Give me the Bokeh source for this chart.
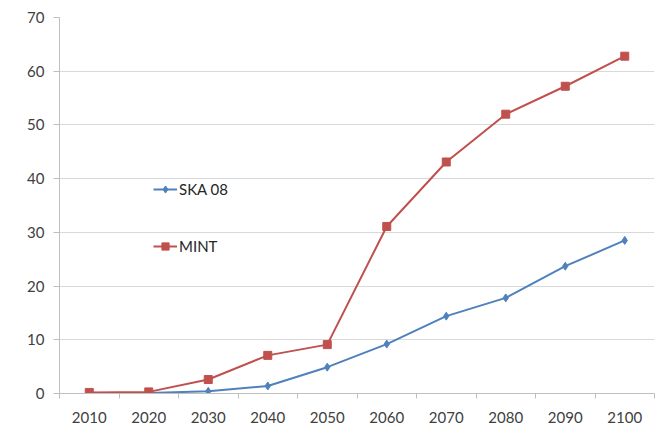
from bokeh.plotting import figure
from bokeh.models import FixedTicker, Legend, LegendItem, Range1d
from bokeh.embed import file_html
from bokeh.resources import INLINE

years = [2010, 2020, 2030, 2040, 2050, 2060, 2070, 2080, 2090, 2100]
ska08 = [0.0, 0.1, 0.4, 1.4, 4.9, 9.2, 14.4, 17.8, 23.7, 28.5]
mint = [0.2, 0.3, 2.6, 7.1, 9.1, 31.1, 43.1, 52.0, 57.2, 62.8]
y_ticks = [0, 10, 20, 30, 40, 50, 60, 70]

FONT = "Lato"
TXT = "#404040"
BLUE = "#4f81bd"
RED = "#c0504d"

p = figure(width=659, height=427, output_backend="svg", toolbar_location=None,
           x_range=Range1d(2005, 2105), y_range=Range1d(0, 70),
           min_border_left=59, min_border_right=5, min_border_top=17, min_border_bottom=34)
p.outline_line_color = None
p.background_fill_color = "white"
p.border_fill_color = "white"

# axes
p.xaxis.ticker = FixedTicker(ticks=years, minor_ticks=[y - 5 for y in years] + [years[-1] + 5])
p.xaxis.major_tick_line_color = None
p.xaxis.minor_tick_line_color = "#bfbfbf"
p.xaxis.minor_tick_out = 5
p.xaxis.minor_tick_in = 0
p.xaxis.axis_line_color = "#bfbfbf"
p.xaxis.major_label_text_font = FONT
p.xaxis.major_label_text_font_size = "15px"
p.xaxis.major_label_text_color = TXT
p.xaxis.major_label_standoff = 12

p.yaxis.ticker = FixedTicker(ticks=y_ticks)
p.yaxis.minor_tick_line_color = None
p.yaxis.major_tick_line_color = "#bfbfbf"
p.yaxis.major_tick_out = 6
p.yaxis.major_tick_in = 0
p.yaxis.axis_line_color = "#bfbfbf"
p.yaxis.major_label_text_font = FONT
p.yaxis.major_label_text_font_size = "15px"
p.yaxis.major_label_text_color = TXT
p.yaxis.major_label_standoff = 9

p.xgrid.grid_line_color = None
p.ygrid.grid_line_color = "#d9d9d9"
p.ygrid.grid_line_width = 1.2

# series
l1 = p.line(years, ska08, line_color=BLUE, line_width=2)
m1 = p.scatter(years, ska08, marker="diamond", size=8, fill_color=BLUE, line_color=BLUE)
l2 = p.line(years, mint, line_color=RED, line_width=2)
m2 = p.scatter(years, mint, marker="square", size=8, fill_color=RED, line_color=RED)

legend = Legend(items=[LegendItem(label="SKA 08", renderers=[l1, m1]),
                       LegendItem(label="MINT", renderers=[l2, m2])],
                location=(94, 138), orientation="vertical",
                spacing=39, padding=0, margin=0,
                glyph_width=24, glyph_height=18, label_height=18,
                label_standoff=2, border_line_color=None,
                background_fill_alpha=0,
                label_text_font=FONT, label_text_font_size="15px",
                label_text_color="#262626")
p.add_layout(legend)

open("out.html", "w").write(file_html(p, INLINE))
